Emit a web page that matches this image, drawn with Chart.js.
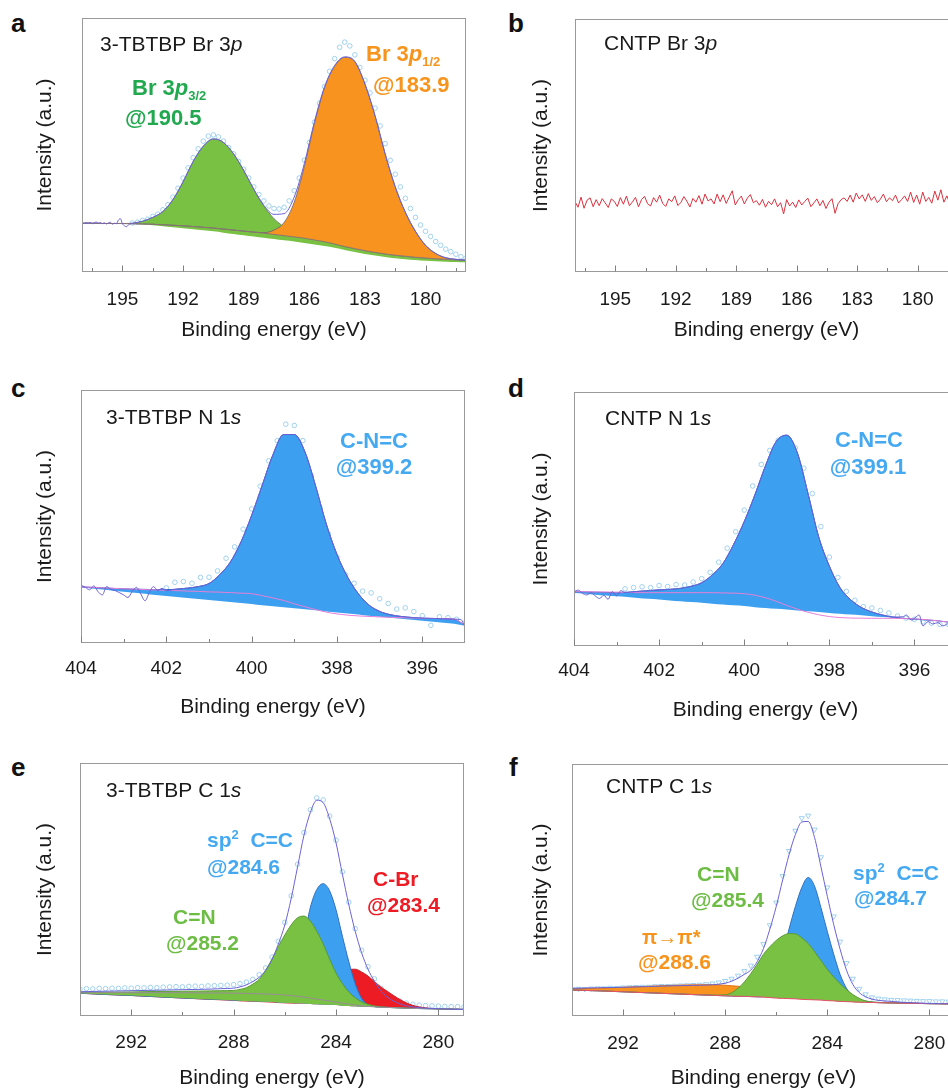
<!DOCTYPE html>
<html>
<head>
<meta charset="utf-8">
<title>XPS spectra</title>
<script src="https://cdn.jsdelivr.net/npm/chart.js@4.4.1/dist/chart.umd.min.js"></script>
<style>
  html, body { margin:0; padding:0; background:#fff; width:948px; height:1090px; overflow:hidden; }
  #wrap { position:relative; width:948px; height:1090px; overflow:hidden; background:#fff; }
  #wrap canvas { position:absolute; }
  .plab { position:absolute; font: bold 26px "Liberation Sans", Arial, sans-serif; line-height:30px; color:#111; }
</style>
</head>
<body>
<div id="wrap">
  <div class="plab" style="left:11px;top:8px">a</div>
  <div class="plab" style="left:508px;top:8px">b</div>
  <div class="plab" style="left:11px;top:373px">c</div>
  <div class="plab" style="left:508px;top:373px">d</div>
  <div class="plab" style="left:11px;top:752px">e</div>
  <div class="plab" style="left:509px;top:752px">f</div>
</div>
<script>
// ---------- helpers for energy grids (sampling positions only) ----------
const seq = (a, b, step) => { const out = []; const n = Math.round((a - b) / step); for (let i = 0; i <= n; i++) out.push(+(a - i * step).toFixed(3)); return out; };

// ---------- tick labels ----------
const brMajor = [195, 192, 189, 186, 183, 180];
const brMinor = [196.5, 193.5, 190.5, 187.5, 184.5, 181.5, 178.5];
const nMajor = [404, 402, 400, 398, 396];
const nMinor = [403, 401, 399, 397];
const cMajor = [292, 288, 284, 280];
const cMinor = [290, 286, 282];

// ---------- panel a : 3-TBTBP Br 3p ----------
const aGridEnergy = seq(197, 178, 0.5);
const aBase    = [19.2,19.2,19.1,19.1,19.1,19.0,18.7,18.4,18.0,17.6,17.2,16.8,16.4,16.0,15.5,15.0,14.5,14.0,13.5,13.0,12.5,12.0,11.4,10.8,10.2,9.5,8.7,7.9,7.1,6.5,5.9,5.4,5.0,4.7,4.4,4.2,4.0,3.9,3.8];
const aShirley = [19.2,19.2,19.1,19.1,19.1,19.0,18.9,18.8,18.6,18.4,18.2,17.9,17.6,17.3,16.9,16.5,16.1,15.7,15.3,14.8,14.3,13.8,13.3,12.6,11.9,11.0,10.0,9.2,8.4,7.7,7.1,6.6,6.2,5.8,5.5,5.2,5.0,4.8,4.6];
const aGreen   = [19.2,19.2,19.1,19.1,19.1,19.2,20.0,21.5,23.8,28.5,35.5,43.5,49.5,52.4,51.0,46.5,40.0,32.5,26.0,21.0,17.8,15.8,14.5,13.3,12.3,11.3,10.2,9.3,8.4,7.7,7.1,6.6,6.2,5.8,5.5,5.2,5.0,4.8,4.6];
const aOrange  = [19.2,19.2,19.1,19.1,19.1,19.0,18.9,18.8,18.6,18.4,18.2,17.9,17.6,17.3,16.9,16.5,16.1,15.7,15.5,16.5,19.5,27.5,41.5,58.5,72.5,81.0,84.5,82.8,74.0,61.5,46.5,33.5,23.5,16.0,10.5,7.3,5.6,5.0,4.6];
const aEnvEnergy = [...seq(197, 194.5, 0.1), ...seq(194, 178, 0.5)];
const aEnvelope = [19.4,19.0,19.5,19.1,19.6,19.0,19.3,19.7,19.2,19.5,19.0,19.4,18.9,19.3,19.6,18.8,19.2,19.0,20.4,21.0,19.0,18.2,17.8,18.6,19.0,19.2,
  20.0,21.5,23.8,28.5,35.5,43.5,49.5,52.4,51.0,46.5,40.0,32.6,26.2,22.7,23.0,29.5,42.7,59.2,72.9,81.3,84.7,82.9,74.0,61.5,46.5,33.5,23.5,16.0,10.5,7.3,5.6,5.0,4.6];
const aMarkEnergy = seq(194.5, 178, 0.25);
const aMarkers = [19.3,19.6,20.3,20.8,21.9,22.8,24.5,26.5,29.5,33.0,37.0,41.0,45.0,48.5,51.5,53.5,54.0,53.2,51.5,49.0,46.5,43.5,40.5,37.0,33.5,30.5,28.0,26.0,25.0,24.8,25.5,28.0,32.0,37.0,44.0,51.0,59.0,66.5,73.0,79.0,84.0,88.5,90.5,89.0,85.5,80.5,75.5,70.5,64.5,57.5,50.5,44.0,38.5,33.5,29.0,25.0,21.5,18.5,16.0,14.0,12.0,10.5,9.0,8.0,7.0,6.0,5.5];

// ---------- panel b : CNTP Br 3p (noise only) ----------
const bEnergy = seq(197, 177.95, 0.15);
const bSignal = [27.8,25.6,29.6,25.2,28.4,29.3,25.8,28.6,26.2,29.0,27.3,25.5,28.9,27.9,
  25.9,29.4,26.8,30.0,26.2,27.7,29.5,25.8,28.6,29.9,27.0,26.1,29.4,27.6,30.4,27.1,25.9,28.9,27.8,30.1,26.3,27.4,29.8,28.0,25.7,29.1,27.6,30.2,26.8,30.8,28.1,
  28.9,26.9,30.8,27.8,30.5,27.1,29.6,32.1,26.5,28.6,30.0,26.9,29.2,30.6,27.4,28.2,
  26.4,28.7,25.6,27.9,26.6,28.9,25.8,27.4,23.0,28.6,26.1,27.6,
  25.5,28.5,26.5,27.9,29.2,25.8,27.3,28.9,26.2,28.3,25.1,27.6,29.0,23.2,27.0,28.6,29.3,
  27.9,30.4,27.6,31.2,28.9,30.5,27.9,31.0,28.3,29.8,27.4,28.8,30.8,27.8,29.3,28.2,30.4,27.3,28.6,30.1,27.9,31.6,
  27.5,30.4,26.8,31.6,27.9,29.5,27.2,32.0,28.4,32.5,27.6,30.1,27.0,31.0,28.2,29.6];

// ---------- panel c : 3-TBTBP N 1s ----------
const cGridEnergy = seq(404, 395, 0.25);
const cBase    = [21.9,21.5,21.1,20.7,20.3,19.9,19.5,19.0,18.6,18.2,17.8,17.4,17.0,16.6,16.2,15.8,15.4,14.9,14.5,14.1,13.7,13.3,12.9,12.5,12.1,11.7,11.3,10.8,10.4,10.0,9.6,9.2,8.8,8.4,8.0,7.6,6.8];
const cShirley = [22.2,22.0,21.8,21.6,21.4,21.3,21.1,21.0,20.8,20.7,20.5,20.4,20.2,20.1,19.9,19.7,19.5,18.7,17.8,16.8,15.5,14.3,13.2,12.2,11.5,11.0,10.7,10.5,10.3,10.15,10.0,9.9,9.8,9.7,9.6,9.4,7.0];
const cPeak    = [22.2,22.0,21.8,21.6,21.4,21.3,21.2,21.1,21.1,21.3,21.7,22.3,23.5,27.0,32.0,40.0,50.5,62.5,74.5,82.4,82.4,75.5,62.0,47.0,35.0,26.0,19.5,15.0,12.5,11.2,10.5,10.1,9.8,9.7,9.6,9.4,7.0];
const cEnvEnergy = [...seq(404, 402, 0.1), ...seq(401.75, 395.25, 0.25), 395.1, 395.0];
const cEnvelope = [22.9,22.0,21.0,22.6,20.3,19.0,22.3,21.2,20.7,19.9,19.0,18.0,20.3,22.0,19.4,16.7,19.9,22.3,20.7,21.6,20.7,
  21.3,21.7,22.3,23.5,27.0,32.0,40.0,50.5,62.5,74.5,82.4,82.4,75.5,62.0,47.0,35.0,26.0,19.5,15.0,12.5,11.2,10.5,10.1,9.8,9.7,9.6,9.4,
  9.3,6.5];
const cMarkEnergy = seq(402, 395, 0.2);
const cMarkers = [21.8,24.0,24.3,23.6,25.9,26.0,28.5,33.5,38.0,45.0,53.0,62.0,72.0,80.0,86.5,86.0,80.0,66.0,53.5,43.0,34.0,27.0,23.6,20.5,19.8,17.5,15.6,13.4,13.9,12.4,10.8,7.0,10.4,10.0,9.4,8.0];

// ---------- panel d : CNTP N 1s ----------
const dGridEnergy = seq(404, 395, 0.25);
const dBase    = [20.9,20.6,20.2,19.9,19.6,19.3,18.9,18.6,18.3,17.9,17.6,17.3,17.0,16.6,16.3,16.0,15.7,15.3,15.0,14.7,14.4,14.0,13.7,13.4,13.0,12.7,12.4,12.1,11.7,11.4,11.1,10.75,10.45,10.1,9.8,9.5,8.9];
const dShirley = [21.4,21.35,21.3,21.25,21.2,21.1,21.0,21.0,21.0,21.0,21.0,21.0,21.0,21.0,20.9,20.8,20.6,20.0,19.0,17.6,16.0,14.5,13.3,12.3,11.6,11.2,11.0,10.95,10.9,10.9,10.9,10.8,10.7,10.4,10.0,9.5,9.0];
const dPeak    = [21.4,21.3,21.2,21.1,21.0,21.2,21.5,21.8,22.1,22.3,22.7,23.5,24.9,28.0,32.5,40.0,49.0,59.5,71.0,80.5,83.0,76.0,60.0,43.0,31.5,23.0,18.2,15.2,13.4,12.2,11.4,10.9,10.6,10.3,10.0,9.5,9.0];
const dEnvEnergy = [...seq(404, 402.8, 0.1), ...seq(402.5, 396.5, 0.25), 396.27,396.19,396.07,395.96,395.89,395.8,395.68,395.57,395.45,395.33,395.22,395.1,395.0];
const dEnvelope = [21.4,22.0,20.7,20.1,21.0,19.7,18.7,20.0,18.4,21.4,19.7,21.8,21.0,
  21.5,21.8,22.1,22.3,22.7,23.5,24.9,28.0,32.5,40.0,49.0,59.5,71.0,80.5,83.0,76.0,60.0,43.0,31.5,23.0,18.2,15.2,13.4,12.2,11.4,
  11.5,12.2,10.2,11.5,12.2,7.9,9.6,8.7,9.2,7.9,8.7,8.2,8.6];
const dMarkEnergy = seq(402.8, 395.2, 0.2);
const dMarkers = [22.5,23.0,23.3,23.0,23.8,23.4,24.2,24.0,25.2,26.5,29.0,33.0,38.5,45.0,53.5,63.0,71.5,77.0,81.0,82.0,78.0,70.0,60.0,47.0,35.0,27.0,21.5,18.0,15.5,15.0,14.0,13.0,11.8,11.0,10.5,9.5,9.0,8.5,8.5];

// ---------- panels e, f : C 1s (shared energy grid) ----------
const c1sGridEnergy = [294,293,292,291,290,289,288.5,288,287.75,287.5,287.25,287,286.75,286.5,286.25,286,285.75,285.5,285.25,285,284.75,284.5,284.25,284,283.75,283.5,283.25,283,282.75,282.5,282.25,282,281.5,281,280.5,280,279.5,279];
const c1sMarkEnergy = seq(294, 279, 0.25);

const eBase     = [9.0,8.5,8.1,7.6,7.1,6.6,6.4,6.2,6.0,5.9,5.8,5.7,5.6,5.5,5.3,5.2,5.1,5.0,4.9,4.7,4.6,4.5,4.4,4.3,4.1,4.0,3.9,3.8,3.7,3.6,3.5,3.4,3.2,3.0,2.9,2.8,2.7,2.6];
const eShirley  = [9.2,9.2,9.2,9.2,9.2,9.1,9.1,9.0,9.0,8.9,8.9,8.8,8.7,8.6,8.5,8.3,8.1,7.8,7.5,7.1,6.7,6.3,5.9,5.5,5.1,4.7,4.3,4.0,3.8,3.6,3.5,3.4,3.2,3.0,2.9,2.8,2.7,2.6];
const eCN       = [9.3,9.4,9.5,9.7,9.8,9.9,10.0,10.1,10.5,11.2,12.6,14.5,18.0,22.5,27.5,32.0,36.0,38.8,39.5,37.5,33.5,28.5,22.5,17.0,12.8,9.5,7.2,5.6,4.6,4.0,3.6,3.4,3.2,3.0,2.9,2.8,2.7,2.6];
const eCC       = [9.0,8.5,8.1,7.6,7.1,6.7,6.5,6.3,6.2,6.1,6.1,6.1,6.3,6.8,8.0,10.5,15.0,22.0,31.0,43.0,50.0,52.3,49.5,42.0,31.5,21.5,12.8,7.0,4.5,3.7,3.5,3.4,3.2,3.0,2.9,2.8,2.7,2.6];
const eCBr      = [9.0,8.5,8.1,7.6,7.1,6.6,6.4,6.2,6.0,5.9,5.8,5.7,5.6,5.5,5.3,5.2,5.1,5.1,5.2,5.5,6.5,8.2,10.5,13.2,16.5,18.3,18.5,17.4,15.8,13.6,11.5,9.8,6.5,4.2,3.2,2.8,2.7,2.6];
const eEnvelope = [9.6,9.8,10.0,10.2,10.4,10.6,10.8,11.0,11.5,12.3,13.6,15.3,18.0,22.3,28.5,36.0,46.5,59.0,71.5,80.5,85.3,84.3,78.0,68.5,56.0,44.0,33.5,25.0,18.5,13.8,10.0,7.5,4.8,3.6,3.1,2.9,2.7,2.6];
const eMarkers  = [10.6,10.8,10.7,10.9,10.8,11.0,10.9,11.1,11.0,11.2,11.1,11.3,11.2,11.4,11.5,11.6,11.5,11.7,11.8,11.7,11.9,12.0,12.1,12.2,12.4,12.8,13.4,14.5,16.3,19.0,23.3,29.5,37.0,47.5,60.0,72.5,81.5,86.2,85.4,79.0,69.5,57.0,45.0,34.5,26.0,19.5,14.7,11.0,8.5,7.0,5.9,5.1,4.6,4.3,4.1,4.0,3.9,3.8,3.7,3.7,3.6];

const fShirley  = [10.3,10.0,9.6,9.2,8.8,8.4,8.2,8.0,7.9,7.8,7.8,7.7,7.6,7.5,7.3,7.1,7.0,6.9,6.8,6.6,6.5,6.4,6.3,6.1,6.0,5.8,5.7,5.6,5.5,5.4,5.35,5.3,5.2,5.1,5.0,4.9,4.85,4.8];
const fPiPi     = [10.8,11.0,11.4,11.8,12.2,12.4,12.4,12.2,12.0,11.8,11.5,11.2,10.9,10.5,10.1,9.7,9.3,8.9,8.5,8.1,7.7,7.4,7.0,6.7,6.4,6.1,5.9,5.7,5.6,5.5,5.4,5.3,5.2,5.1,5.0,4.9,4.85,4.8];
const fCC       = [10.3,10.0,9.6,9.2,8.8,8.4,8.2,8.0,7.9,7.8,7.8,7.7,7.6,7.6,10.0,15.5,24.5,34.5,43.5,51.0,55.0,51.5,43.0,33.5,24.5,16.5,11.0,8.0,6.6,5.9,5.5,5.3,5.2,5.1,5.0,4.9,4.85,4.8];
const fCN       = [10.3,10.0,9.6,9.2,8.8,8.4,8.3,8.4,9.2,11.0,13.5,16.8,20.5,24.5,27.5,30.0,31.8,32.7,32.6,31.0,28.8,25.5,22.0,18.5,15.5,12.8,10.5,8.5,7.0,6.0,5.6,5.4,5.2,5.1,5.0,4.9,4.85,4.8];
const fEnvelope = [11.0,11.2,11.4,11.7,12.0,12.2,12.4,13.0,13.8,15.0,16.5,18.2,21.5,26.8,34.5,43.5,54.0,64.0,72.0,77.0,77.2,70.8,59.2,47.5,36.3,26.5,18.2,12.5,9.3,7.6,6.7,6.2,5.8,5.4,5.2,5.0,4.9,4.8];
const fMarkers  = [10.6,10.8,10.7,10.9,11.0,11.0,11.2,11.1,11.3,11.4,11.5,11.6,11.6,11.8,11.9,11.9,12.0,12.1,12.2,12.3,12.4,12.6,12.9,13.3,13.9,14.8,16.0,17.8,20.0,23.5,28.5,36.0,45.0,55.5,65.5,73.5,78.5,79.5,74.0,63.0,51.0,39.5,29.5,21.0,14.8,10.8,8.6,7.4,6.9,6.6,6.4,6.3,6.2,6.1,6.0,5.9,5.9,5.8,5.8,5.7,5.7];

// ---------- styling ----------
const FONT = '"Liberation Sans", Arial, Helvetica, sans-serif';
const TICK_SIZE = 19, TITLE_SIZE = 21;
const TXT = '#1a1a1a';
const GREEN_FILL = '#79c143', GREEN_DARK_TXT = '#22a94f', GREEN_TXT = '#6dbd45';
const ORANGE_FILL = '#f7931e', ORANGE_TXT = '#f7941d';
const BLUE_FILL = '#3d9ff0', BLUE_TXT = '#45a9f2';
const RED = '#ed1c24';
const ENV = '#6b62d6', MARK = '#9fd1f0';

const pts = (xs, ys) => xs.map((x, i) => ({x, y: ys[i]}));
function curve(xs, ys, o) {
  return Object.assign({ data: pts(xs, ys), borderWidth: 1, pointRadius: 0, fill: false,
    cubicInterpolationMode: 'monotone', borderColor: 'rgba(0,0,0,0)', backgroundColor: 'rgba(0,0,0,0)' }, o);
}
function marks(xs, ys, o) {
  return Object.assign({ data: pts(xs, ys), showLine: false, pointRadius: 2.3, pointBorderWidth: 1,
    pointBackgroundColor: 'rgba(255,255,255,0)', pointBorderColor: MARK, borderColor: MARK, order: 30 }, o);
}

function fontStr(p) { return (p.i ? 'italic ' : '') + (p.b ? 'bold ' : '') + p.s + 'px ' + FONT; }
function drawRich(ctx, x, y, n) {
  ctx.textBaseline = 'alphabetic'; ctx.textAlign = 'left';
  const widths = n.parts.map(p => { ctx.font = fontStr(p); return ctx.measureText(p.t).width; });
  const total = widths.reduce((s, w) => s + w, 0);
  let cx = n.align === 'center' ? x - total / 2 : x;
  const base = y + n.parts[0].s * 0.358;
  n.parts.forEach((p, i) => { ctx.font = fontStr(p); ctx.fillStyle = n.color; ctx.fillText(p.t, cx, base + (p.dy || 0)); cx += widths[i]; });
}

function makePanel(p) {
  const cv = document.createElement('canvas');
  cv.width = p.box.w; cv.height = p.box.h;
  cv.style.left = p.box.x + 'px'; cv.style.top = p.box.y + 'px';
  cv.style.width = p.box.w + 'px'; cv.style.height = p.box.h + 'px';
  document.getElementById('wrap').appendChild(cv);
  const fr = { left: p.frame.left - p.box.x, top: p.frame.top - p.box.y, right: p.frame.right - p.box.x, bottom: p.frame.bottom - p.box.y };
  const tLH = TITLE_SIZE * 1.2, kLH = TICK_SIZE * 1.2;
  const yScaleLeft = (p.yTitleX - p.box.x) - tLH / 2;
  const yTitlePadB = fr.left - yScaleLeft - tLH;
  const tickPad = p.tickDY - kLH / 2;
  // Chart.js reserves twice the tick padding below the labels
  const xTitlePadT = p.titleDY - kLH - 2 * tickPad - tLH / 2;
  const xScaleH = kLH + 2 * tickPad + xTitlePadT + tLH;
  const padding = { left: yScaleLeft, top: fr.top, right: p.box.w - fr.right, bottom: p.box.h - fr.bottom - xScaleH };
  const isMajor = v => p.major.some(m => Math.abs(m - v) < 1e-6);
  const allTicks = [...p.major, ...p.minor].sort((a, b) => b - a);

  const framePlugin = {
    id: 'frame' + p.id,
    afterDatasetsDraw(chart) {
      const { ctx, chartArea: a, scales: { x } } = chart;
      ctx.save();
      ctx.strokeStyle = '#9a9a9a'; ctx.lineWidth = 1;
      ctx.strokeRect(Math.round(a.left) + 0.5, Math.round(a.top) + 0.5, Math.round(a.right - a.left) - 1, Math.round(a.bottom - a.top) - 1);
      ctx.strokeStyle = '#808080';
      const yb = Math.round(a.bottom) - 0.5;
      x.ticks.forEach(t => {
        const px = Math.round(x.getPixelForValue(t.value)) + 0.5;
        const len = isMajor(t.value) ? 6 : 3.5;
        ctx.beginPath(); ctx.moveTo(px, yb); ctx.lineTo(px, yb - len); ctx.stroke();
      });
      ctx.restore();
    }
  };
  const notesPlugin = {
    id: 'notes' + p.id,
    afterDatasetsDraw(chart) {
      const { ctx, chartArea: a } = chart;
      ctx.save();
      p.notes.forEach(n => drawRich(ctx, a.left + n.x, a.top + n.y, n));
      ctx.restore();
    }
  };

  new Chart(cv, {
    type: 'line',
    data: { datasets: p.datasets },
    options: {
      responsive: false, animation: false, devicePixelRatio: 1, events: [],
      layout: { padding },
      plugins: { legend: { display: false }, tooltip: { enabled: false } },
      scales: {
        x: {
          type: 'linear', reverse: true, min: p.xMin, max: p.xMax,
          grid: { display: false, drawTicks: false }, border: { display: false },
          afterBuildTicks: s => { s.ticks = allTicks.map(v => ({ value: v })); },
          ticks: { autoSkip: false, maxRotation: 0, minRotation: 0, padding: tickPad, color: TXT,
                   font: { family: FONT, size: TICK_SIZE }, callback: v => isMajor(v) ? String(v) : '' },
          title: { display: true, text: 'Binding energy (eV)', color: TXT, font: { family: FONT, size: TITLE_SIZE },
                   padding: { top: xTitlePadT, bottom: 0 } }
        },
        y: {
          type: 'linear', min: 0, max: 100,
          grid: { display: false, drawTicks: false }, border: { display: false },
          ticks: { display: false },
          title: { display: true, text: 'Intensity (a.u.)', color: TXT, font: { family: FONT, size: TITLE_SIZE },
                   padding: { top: 0, bottom: yTitlePadB } }
        }
      }
    },
    plugins: [framePlugin, notesPlugin]
  });
}

const T = (t, s, extra) => Object.assign({ t, s }, extra || {});

// ---- a ----
makePanel({
  id: 'a', box: { x: 0, y: 0, w: 474, h: 370 }, frame: { left: 82, top: 18, right: 466, bottom: 272 },
  yTitleX: 45, tickDY: 28, titleDY: 58, xMin: 178, xMax: 197, major: brMajor, minor: brMinor,
  datasets: [
    marks(aMarkEnergy, aMarkers),
    curve(aGridEnergy, aBase, { borderWidth: 0, order: 20 }),
    curve(aGridEnergy, aShirley, { borderColor: '#8c7474', order: 2 }),
    curve(aGridEnergy, aGreen, { fill: 1, backgroundColor: GREEN_FILL, borderColor: '#5f6f66', borderWidth: 0.8, order: 5 }),
    curve(aGridEnergy, aOrange, { fill: 2, backgroundColor: ORANGE_FILL, borderColor: '#66607a', borderWidth: 0.8, order: 4 }),
    curve(aEnvEnergy, aEnvelope, { borderColor: ENV, borderWidth: 1, order: 0 })
  ],
  notes: [
    { x: 18, y: 25, color: TXT, parts: [T('3-TBTBP Br 3', 21), T('p', 21, { i: 1 })] },
    { x: 50, y: 69, color: GREEN_DARK_TXT, parts: [T('Br 3', 22, { b: 1 }), T('p', 22, { b: 1, i: 1 }), T('3/2', 13, { b: 1, dy: 5 })] },
    { x: 43, y: 99, color: GREEN_DARK_TXT, parts: [T('@190.5', 22, { b: 1 })] },
    { x: 284, y: 35, color: ORANGE_TXT, parts: [T('Br 3', 22, { b: 1 }), T('p', 22, { b: 1, i: 1 }), T('1/2', 13, { b: 1, dy: 5 })] },
    { x: 291, y: 66, color: ORANGE_TXT, parts: [T('@183.9', 22, { b: 1 })] }
  ]
});

// ---- b ----
makePanel({
  id: 'b', box: { x: 474, y: 0, w: 500, h: 370 }, frame: { left: 575, top: 19, right: 958, bottom: 272 },
  yTitleX: 541, tickDY: 28, titleDY: 58, xMin: 178, xMax: 197, major: brMajor, minor: brMinor,
  datasets: [ curve(bEnergy, bSignal, { borderColor: '#d8323f', borderWidth: 1, cubicInterpolationMode: 'default', tension: 0 }) ],
  notes: [ { x: 29, y: 23, color: TXT, parts: [T('CNTP Br 3', 21), T('p', 21, { i: 1 })] } ]
});

// ---- c ----
makePanel({
  id: 'c', box: { x: 0, y: 370, w: 474, h: 370 }, frame: { left: 81, top: 390, right: 465, bottom: 643 },
  yTitleX: 45, tickDY: 26, titleDY: 64, xMin: 395, xMax: 404, major: nMajor, minor: nMinor,
  datasets: [
    marks(cMarkEnergy, cMarkers),
    curve(cGridEnergy, cBase, { borderWidth: 0, order: 20 }),
    curve(cGridEnergy, cPeak, { fill: 1, backgroundColor: BLUE_FILL, borderColor: '#2f5fc8', order: 5 }),
    curve(cGridEnergy, cShirley, { borderColor: '#e67fd8', order: 2 }),
    curve(cEnvEnergy, cEnvelope, { borderColor: ENV, order: 0 })
  ],
  notes: [
    { x: 25, y: 26, color: TXT, parts: [T('3-TBTBP N 1', 21), T('s', 21, { i: 1 })] },
    { x: 293, y: 50, align: 'center', color: BLUE_TXT, parts: [T('C-N=C', 22, { b: 1 })] },
    { x: 293, y: 76, align: 'center', color: BLUE_TXT, parts: [T('@399.2', 22, { b: 1 })] }
  ]
});

// ---- d ----
makePanel({
  id: 'd', box: { x: 474, y: 370, w: 500, h: 370 }, frame: { left: 574, top: 392, right: 957, bottom: 646 },
  yTitleX: 541, tickDY: 25, titleDY: 64, xMin: 395, xMax: 404, major: nMajor, minor: nMinor,
  datasets: [
    marks(dMarkEnergy, dMarkers),
    curve(dGridEnergy, dBase, { borderWidth: 0, order: 20 }),
    curve(dGridEnergy, dPeak, { fill: 1, backgroundColor: BLUE_FILL, borderColor: '#2f5fc8', order: 5 }),
    curve(dGridEnergy, dShirley, { borderColor: '#e67fd8', order: 2 }),
    curve(dEnvEnergy, dEnvelope, { borderColor: ENV, order: 0 })
  ],
  notes: [
    { x: 31, y: 25, color: TXT, parts: [T('CNTP N 1', 21), T('s', 21, { i: 1 })] },
    { x: 295, y: 47, align: 'center', color: BLUE_TXT, parts: [T('C-N=C', 22, { b: 1 })] },
    { x: 294, y: 74, align: 'center', color: BLUE_TXT, parts: [T('@399.1', 22, { b: 1 })] }
  ]
});

// ---- e ----
makePanel({
  id: 'e', box: { x: 0, y: 740, w: 474, h: 350 }, frame: { left: 80, top: 763, right: 464, bottom: 1016 },
  yTitleX: 45, tickDY: 27, titleDY: 62, xMin: 279, xMax: 294, major: cMajor, minor: cMinor,
  datasets: [
    marks(c1sMarkEnergy, eMarkers),
    curve(c1sGridEnergy, eBase, { borderWidth: 0, order: 20 }),
    curve(c1sGridEnergy, eShirley, { borderColor: '#9a8c9a', order: 2 }),
    curve(c1sGridEnergy, eCBr, { fill: 1, backgroundColor: RED, borderColor: '#c8202a', order: 7 }),
    curve(c1sGridEnergy, eCC, { fill: 1, backgroundColor: BLUE_FILL, borderColor: '#2f6fc0', order: 6 }),
    curve(c1sGridEnergy, eCN, { fill: 1, backgroundColor: GREEN_FILL, borderColor: '#5a9a3a', order: 5 }),
    curve(c1sGridEnergy, eEnvelope, { borderColor: ENV, order: 0 })
  ],
  notes: [
    { x: 26, y: 26, color: TXT, parts: [T('3-TBTBP C 1', 21), T('s', 21, { i: 1 })] },
    { x: 127, y: 76, color: BLUE_TXT, parts: [T('sp', 21, { b: 1 }), T('2', 13, { b: 1, dy: -8 }), T('  C=C', 21, { b: 1 })] },
    { x: 127, y: 103, color: BLUE_TXT, parts: [T('@284.6', 21, { b: 1 })] },
    { x: 93, y: 153, color: GREEN_TXT, parts: [T('C=N', 21, { b: 1 })] },
    { x: 86, y: 179, color: GREEN_TXT, parts: [T('@285.2', 21, { b: 1 })] },
    { x: 293, y: 115, color: RED, parts: [T('C-Br', 21, { b: 1 })] },
    { x: 287, y: 141, color: RED, parts: [T('@283.4', 21, { b: 1 })] }
  ]
});

// ---- f ----
makePanel({
  id: 'f', box: { x: 474, y: 740, w: 500, h: 350 }, frame: { left: 572, top: 764, right: 955, bottom: 1016 },
  yTitleX: 541, tickDY: 28, titleDY: 62, xMin: 279, xMax: 294, major: cMajor, minor: cMinor,
  datasets: [
    marks(c1sMarkEnergy, fMarkers, { pointStyle: 'triangle', pointRotation: 180, pointRadius: 3 }),
    curve(c1sGridEnergy, fShirley, { borderColor: '#ea4f6a', order: 2 }),
    curve(c1sGridEnergy, fPiPi, { fill: 1, backgroundColor: ORANGE_FILL, borderColor: '#e0701a', order: 7 }),
    curve(c1sGridEnergy, fCC, { fill: 1, backgroundColor: BLUE_FILL, borderColor: '#2f6fc0', order: 6 }),
    curve(c1sGridEnergy, fCN, { fill: 1, backgroundColor: GREEN_FILL, borderColor: '#5a9a3a', order: 5 }),
    curve(c1sGridEnergy, fEnvelope, { borderColor: ENV, order: 0 })
  ],
  notes: [
    { x: 34, y: 21, color: TXT, parts: [T('CNTP C 1', 21), T('s', 21, { i: 1 })] },
    { x: 125, y: 109, color: GREEN_TXT, parts: [T('C=N', 21, { b: 1 })] },
    { x: 119, y: 135, color: GREEN_TXT, parts: [T('@285.4', 21, { b: 1 })] },
    { x: 70, y: 173, color: ORANGE_TXT, parts: [T('π→π*', 20, { b: 1 })] },
    { x: 66, y: 197, color: ORANGE_TXT, parts: [T('@288.6', 21, { b: 1 })] },
    { x: 281, y: 108, color: BLUE_TXT, parts: [T('sp', 21, { b: 1 }), T('2', 13, { b: 1, dy: -8 }), T('  C=C', 21, { b: 1 })] },
    { x: 282, y: 133, color: BLUE_TXT, parts: [T('@284.7', 21, { b: 1 })] }
  ]
});
</script>
</body>
</html>
